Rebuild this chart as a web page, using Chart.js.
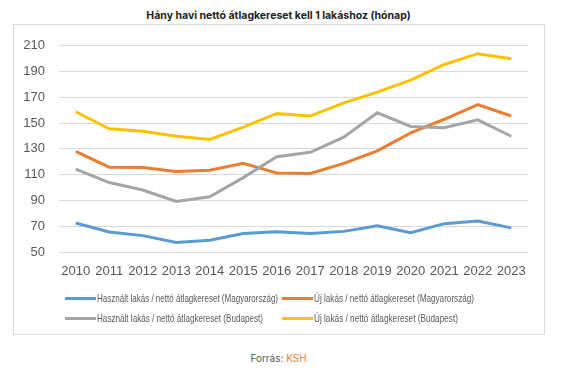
<!DOCTYPE html>
<html>
<head>
<meta charset="utf-8">
<script src="https://cdn.jsdelivr.net/npm/chart.js@4"></script>
<style>
  html, body { margin:0; padding:0; background:#fff; }
  body { width:588px; height:379px; position:relative; overflow:hidden; }
  #title { position:absolute; left:0; width:557px; top:9px; text-align:center; font-family:Inter, "Noto Sans", sans-serif; font-weight:700; font-size:10.5px; color:#222; }
  #box { position:absolute; left:13px; top:24px; width:530px; height:309px; border:1px solid #dcdcdc; }
  #wrap { position:absolute; left:13px; top:24px; width:531px; height:310px; }
  .leg { position:absolute; font-family:"Liberation Sans", sans-serif; font-size:10.5px; color:#595959; white-space:nowrap; line-height:12px; }
  .leg i { display:inline-block; width:31px; height:3px; vertical-align:middle; margin-right:1px; position:relative; top:-1px; }
  .leg span { display:inline-block; transform-origin:left center; }
  #src { position:absolute; left:0; width:557px; top:352px; text-align:center; font-family:Inter, "Noto Sans", sans-serif; font-size:10px; color:#555; }
  #src span { color:#E8823A; }
</style>
</head>
<body>
<div id="title">Hány havi nettó átlagkereset kell 1 lakáshoz (hónap)</div>
<div id="box"></div>
<div id="wrap"><canvas id="c" width="531" height="310"></canvas></div>
<div id="legend"></div>
<div id="src">Forrás: <span>KSH</span></div>
<script>
const years = ["2010","2011","2012","2013","2014","2015","2016","2017","2018","2019","2020","2021","2022","2023"];
const hasznaltMagyar = [72.5, 65.5, 62.7, 57.4, 59.1, 64.4, 65.7, 64.4, 66.0, 70.3, 65.0, 72.0, 74.0, 68.7];
const ujMagyar = [128.0, 115.8, 115.6, 112.5, 113.5, 118.8, 111.3, 111.0, 118.8, 128.5, 142.4, 153.0, 164.4, 155.5];
const hasznaltBudapest = [114.3, 103.9, 98.1, 89.2, 92.8, 107.7, 123.9, 127.4, 139.1, 158.0, 147.4, 146.4, 152.5, 139.8];
const ujBudapest = [158.8, 145.6, 143.7, 139.9, 137.3, 146.9, 157.5, 155.5, 165.7, 174.0, 183.4, 195.5, 203.9, 200.0];
const seriesNames = [
  "Használt lakás / nettó átlagkereset (Magyarország)",
  "Új lakás / nettó átlagkereset (Magyarország)",
  "Használt lakás / nettó átlagkereset (Budapest)",
  "Új lakás / nettó átlagkereset (Budapest)"
];
const colors = ["#5B9BD5", "#ED7D31", "#A5A5A5", "#FFC000"];
const seriesData = [hasznaltMagyar, ujMagyar, hasznaltBudapest, ujBudapest];

const datasets = seriesData.map((d, i) => ({
  label: seriesNames[i],
  data: d,
  borderColor: colors[i],
  backgroundColor: colors[i],
  borderWidth: 3,
  pointRadius: 0,
  tension: 0,
  fill: false,
  order: 4 - i
}));

new Chart(document.getElementById("c"), {
  type: "line",
  data: { labels: years, datasets },
  options: {
    responsive: false,
    animation: false,
    layout: { padding: { top: 17, right: 16, left: 0, bottom: 52 } },
    plugins: { legend: { display: false }, tooltip: { enabled: false }, title: { display: false } },
    scales: {
      x: {
        offset: true,
        grid: { display: false, drawTicks: false, offset: true },
        border: { display: false },
        ticks: { color: "#595959", font: { family: "Liberation Sans", size: 13 }, padding: 12, maxRotation: 0, autoSkip: false },
        afterFit: s => { s.height = 30; }
      },
      y: {
        min: 50, max: 210,
        grid: { color: "#D9D9D9", lineWidth: 1, drawTicks: false },
        border: { display: false },
        ticks: { stepSize: 20, color: "#595959", font: { family: "Liberation Sans", size: 13 }, padding: 14 },
        afterFit: s => { s.width = 46; }
      }
    }
  }
});

const legPos = [[65, 292], [282, 292], [65, 312], [282, 312]];
const legTextWidth = [181, 160, 166, 144];
const legend = document.getElementById("legend");
seriesNames.forEach((n, i) => {
  const el = document.createElement("div");
  el.className = "leg";
  el.style.left = legPos[i][0] + "px";
  el.style.top = legPos[i][1] + "px";
  el.innerHTML = '<i style="background:' + colors[i] + '"></i><span>' + n + '</span>';
  legend.appendChild(el);
  const sp = el.querySelector("span");
  const w = sp.getBoundingClientRect().width;
  sp.style.transform = "scaleX(" + (legTextWidth[i] / w).toFixed(3) + ")";
});
</script>
</body>
</html>
